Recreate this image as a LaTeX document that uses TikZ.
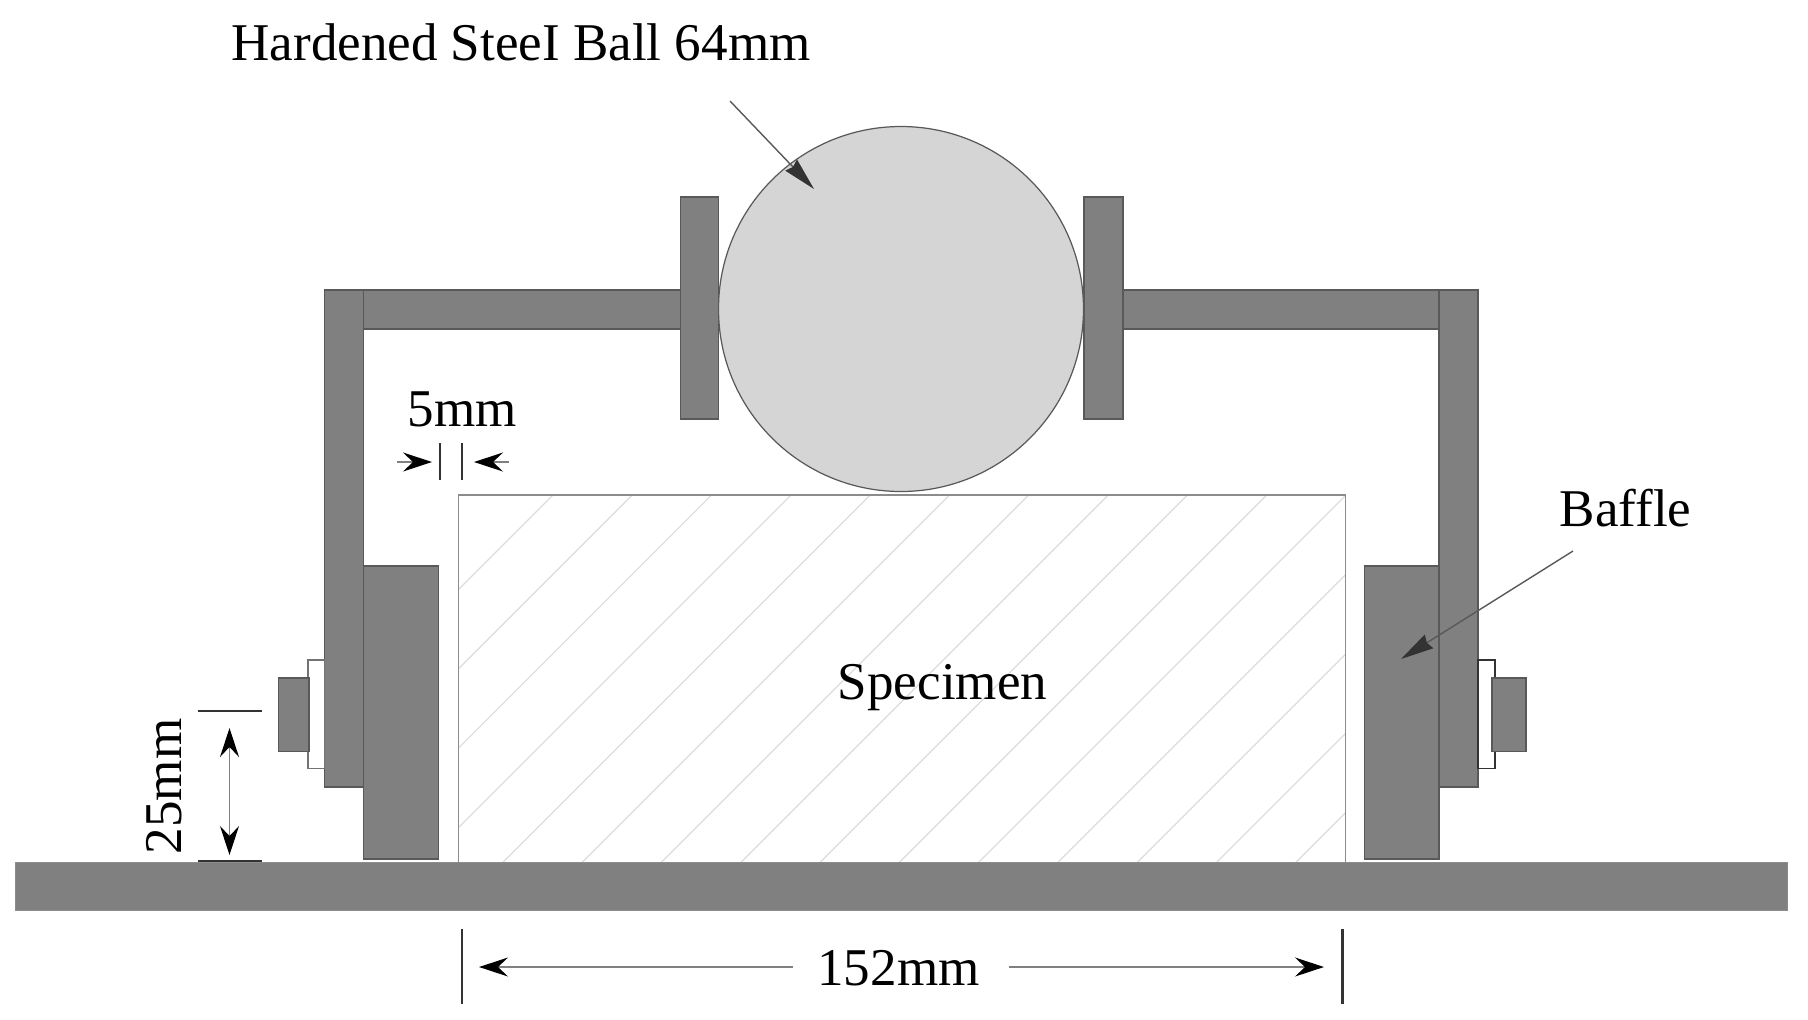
\documentclass[tikz,border=0pt]{standalone}
\usepackage{fontspec}
\setmainfont{Liberation Serif}
\usepackage{xcolor}
\usetikzlibrary{positioning,arrows.meta}
\definecolor{steelgray}{HTML}{808080}
\definecolor{ballgray}{HTML}{D5D5D5}
\definecolor{hatchgray}{HTML}{DCDCDC}

\begin{document}
\begin{tikzpicture}[
    x=0.02cm,
    y=-0.02cm,
    font=\fontsize{30.2}{36}\selectfont
]

\tikzstyle{part}=[
    fill=steelgray,
    draw=black!65,
    line width=0.7pt
]
\tikzstyle{dimline}=[
    draw=black!50,
    line width=0.8pt,
    >={Stealth[length=0.58cm,width=0.38cm,inset=0.2cm,black]}
]
\tikzstyle{leader}=[
    ->,
    draw=black!65,
    line width=0.8pt,
    >={Stealth[length=0.66cm,width=0.32cm,inset=0.05cm,black!80]}
]
\tikzstyle{tick}=[
    draw=black!80,
    line width=1.3pt
]

\useasboundingbox (0,0) rectangle (1808,1019);

% specimen
\begin{scope}
\clip (458.5,495) rectangle (1345.5,862);
\foreach \k in {0,...,15}
    \draw[hatchgray, line width=0.7pt] ({1048+79.3*\k-495},495) -- ++(-400,400);
\end{scope}
\draw[black!45, line width=0.8pt] (458.5,862) -- (458.5,495) -- (1345.5,495) -- (1345.5,862);

% base plate
\draw[fill=steelgray, draw=black!45, line width=0.5pt] (15,862) rectangle (1787,910);

% ball and its holders
\draw[fill=ballgray, draw=black!65, line width=0.7pt] (901,309) circle (182.5);
\draw[part] (680.5,197) rectangle (718.5,419);
\draw[part] (1084,197) rectangle (1123,419);
\draw[part] (363.5,290) rectangle (680.5,329);
\draw[part] (1123,290) rectangle (1439,329);

% posts, baffles, bolts
\draw[part] (324.5,290) rectangle (363.5,787);
\draw[part] (1439,290) rectangle (1478,787);
\draw[part] (363.5,566) rectangle (438.5,859);
\draw[part] (1364.5,566) rectangle (1439,859);
\draw[fill=white, draw=black!55, line width=0.7pt] (308,660) rectangle (324.5,768.5);
\draw[fill=white, draw=black!80, line width=0.9pt] (1478,660) rectangle (1495,768.5);
\draw[part] (278.5,678) rectangle (309,751.5);
\draw[part] (1492,678) rectangle (1526,751.5);

% dimensions
\coordinate (h1) at (229.5,728);
\coordinate (h2) at (229.5,855);
\draw[tick] (197.5,711) -- (262,711);
\draw[tick] (197.5,861) -- (262,861);
\draw[dimline, <->] (h1) -- (h2);
\node[rotate=90] (hlabel) at (164.5,786.5) {25mm};

\coordinate (g1) at (397,462);
\coordinate (g2) at (432,462);
\coordinate (g3) at (509,462);
\coordinate (g4) at (474,462);
\draw[tick] (440,443) -- (440,480);
\draw[tick] (462,443) -- (462,480);
\draw[dimline, ->] (g1) -- (g2);
\draw[dimline, ->] (g3) -- (g4);
\node (glabel) at (462.5,409.5) {5mm};

\coordinate (w1) at (462,929);
\coordinate (w2) at (462,1003.5);
\coordinate (w3) at (1342.5,929);
\coordinate (w4) at (1342.5,1003.5);
\draw[tick] (w1) -- (w2);
\draw[tick] (w3) -- (w4);
\node (wlabel) at (898.5,968.5) {152mm};
\coordinate (a1) at (479,967);
\coordinate (a2) at (793,967);
\coordinate (a3) at (1009,967);
\coordinate (a4) at (1324,967);
\draw[dimline, ->] (a2) -- (a1);
\draw[dimline, ->] (a3) -- (a4);

% labels
\node[anchor=base] (ball) at (521,60) {Hardened SteeI Ball 64mm};
\coordinate (b1) at (730,101);
\coordinate (b2) at (814,189);
\draw[leader] (b1) -- (b2);
\node (baffle) at (1625.5,508.5) {Baffle};
\coordinate (c1) at (1573,551);
\coordinate (c2) at (1401,659);
\draw[leader] (c1) -- (c2);
\node (specimen) at (942.5,688) {Specimen};

\end{tikzpicture}
\end{document}
